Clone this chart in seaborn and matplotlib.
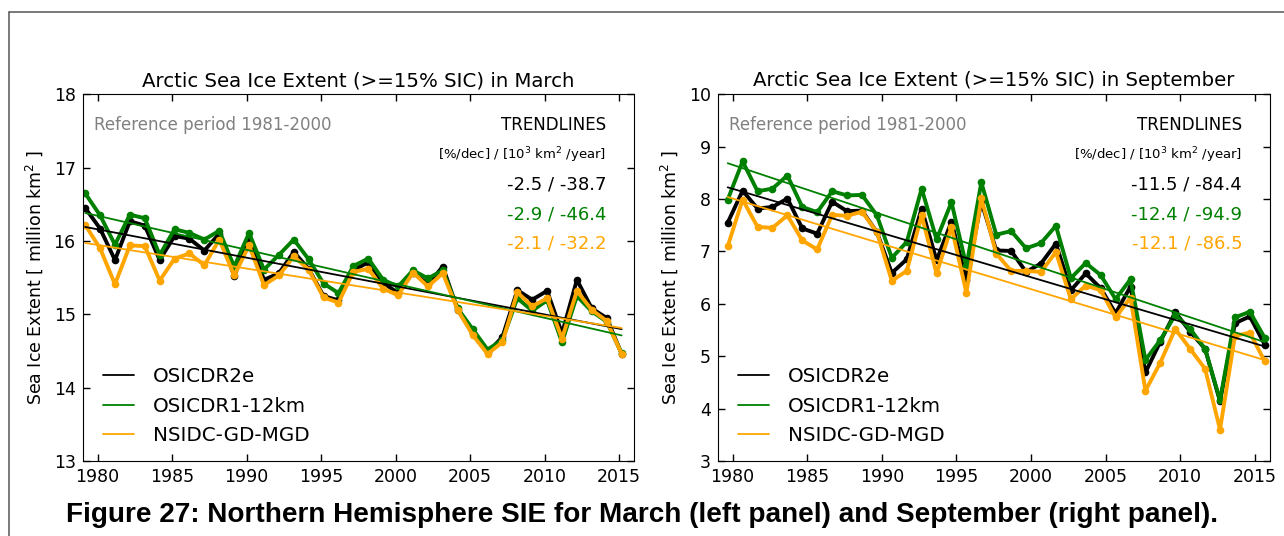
import numpy as np
import pandas as pd
import matplotlib
matplotlib.use("Agg")
import matplotlib.pyplot as plt
from matplotlib.lines import Line2D
import seaborn as sns

years = list(range(1979, 2016))
products = ["OSICDR2e", "OSICDR1-12km", "NSIDC-GD-MGD"]
colors = ["black", "green", "orange"]

# March extent [million km2]
march_osicdr2e = [16.45, 16.17, 15.74, 16.27, 16.21, 15.74, 16.07, 16.03, 15.87, 16.10,
                  15.52, 16.02, 15.47, 15.56, 15.85, 15.62, 15.25, 15.19, 15.60, 15.71,
                  15.43, 15.29, 15.57, 15.41, 15.65, 15.06, 14.75, 14.48, 14.69, 15.33,
                  15.20, 15.32, 14.74, 15.47, 15.08, 14.95, 14.46]
march_osicdr1 = [16.65, 16.35, 15.95, 16.36, 16.31, 15.81, 16.16, 16.11, 16.02, 16.14,
                 15.65, 16.11, 15.61, 15.81, 16.02, 15.75, 15.42, 15.29, 15.66, 15.76,
                 15.47, 15.38, 15.60, 15.49, 15.60, 15.08, 14.80, 14.52, 14.65, 15.22,
                 15.05, 15.19, 14.62, 15.25, 15.04, 14.90, 14.47]
march_nsidc = [16.22, 15.90, 15.41, 15.94, 15.93, 15.46, 15.76, 15.83, 15.67, 16.02,
               15.53, 15.94, 15.40, 15.53, 15.79, 15.61, 15.23, 15.16, 15.58, 15.62,
               15.35, 15.26, 15.57, 15.38, 15.56, 15.06, 14.72, 14.46, 14.62, 15.30,
               15.11, 15.22, 14.67, 15.32, 15.06, 14.91, 14.46]

# September extent [million km2]
sept_osicdr2e = [7.55, 8.16, 7.82, 7.85, 8.01, 7.44, 7.34, 7.95, 7.77, 7.78,
                 7.37, 6.59, 6.85, 7.82, 6.83, 7.57, 6.45, 7.95, 7.02, 7.01,
                 6.61, 6.77, 7.15, 6.26, 6.58, 6.30, 5.82, 6.33, 4.69, 5.28,
                 5.84, 5.47, 5.14, 4.14, 5.63, 5.76, 5.22]
sept_osicdr1 = [7.99, 8.72, 8.15, 8.20, 8.45, 7.85, 7.75, 8.15, 8.07, 8.08,
                7.69, 6.88, 7.18, 8.20, 7.23, 7.94, 6.72, 8.32, 7.32, 7.39,
                7.06, 7.16, 7.49, 6.49, 6.78, 6.55, 6.09, 6.47, 4.93, 5.31,
                5.79, 5.52, 5.14, 4.16, 5.74, 5.85, 5.35]
sept_nsidc = [7.10, 7.99, 7.47, 7.45, 7.69, 7.21, 7.04, 7.70, 7.68, 7.76,
              7.37, 6.44, 6.63, 7.69, 6.58, 7.47, 6.21, 8.02, 6.96, 6.63,
              6.63, 6.61, 6.99, 6.09, 6.35, 6.26, 5.74, 6.12, 4.34, 4.88,
              5.52, 5.14, 4.76, 3.60, 5.39, 5.45, 4.90]

# Trend slopes: [%/dec] and [10^3 km2/year]
march_trend_pct = [-2.5, -2.9, -2.1]
march_trend_abs = [-38.7, -46.4, -32.2]
sept_trend_pct = [-11.5, -12.4, -12.1]
sept_trend_abs = [-84.4, -94.9, -86.5]


def long_frame(series, month):
    t = np.array(years) + (month - 1) / 12.0
    rows = []
    for name, vals in zip(products, series):
        rows.append(pd.DataFrame({"time": t, "extent": vals, "product": name}))
    return pd.concat(rows, ignore_index=True)


def trend_frame(df, slopes):
    rows = []
    for name, s in zip(products, slopes):
        d = df[df["product"] == name]
        k = s / 1000.0
        b = np.mean(d["extent"].values - k * d["time"].values)
        t = d["time"].values[[0, -1]]
        rows.append(pd.DataFrame({"time": t, "extent": k * t + b, "product": name}))
    return pd.concat(rows, ignore_index=True)


sns.set_style("white", {
    "xtick.direction": "in", "ytick.direction": "in",
    "xtick.top": True, "ytick.right": True,
    "xtick.bottom": True, "ytick.left": True,
    "axes.edgecolor": "black", "axes.linewidth": 1.0,
    "text.color": "black", "axes.labelcolor": "black",
    "xtick.color": "black", "ytick.color": "black",
})
plt.rcParams["font.family"] = ["DejaVu Sans"]
plt.rcParams["xtick.major.pad"] = 5
plt.rcParams["ytick.major.pad"] = 5
plt.rcParams["mathtext.default"] = "regular"

fig = plt.figure(figsize=(12.84, 5.36), dpi=100)
ax_m = fig.add_axes([0.0644, 0.1399, 0.4294, 0.6841])
ax_s = fig.add_axes([0.559, 0.1399, 0.4299, 0.6841])

palette = dict(zip(products, colors))

panels = [
    (ax_m, [march_osicdr2e, march_osicdr1, march_nsidc], 3, march_trend_pct, march_trend_abs,
     "Arctic Sea Ice Extent (>=15% SIC) in March", (13, 18)),
    (ax_s, [sept_osicdr2e, sept_osicdr1, sept_nsidc], 9, sept_trend_pct, sept_trend_abs,
     "Arctic Sea Ice Extent (>=15% SIC) in September", (3, 10)),
]

for ax, series, month, pct, absv, title, ylim in panels:
    df = long_frame(series, month)
    sns.lineplot(data=df, x="time", y="extent", hue="product", palette=palette,
                 hue_order=products, marker="o", markersize=5.5, markeredgewidth=0,
                 linewidth=2.8, legend=False, ax=ax)
    tr = trend_frame(df, absv)
    sns.lineplot(data=tr, x="time", y="extent", hue="product", palette=palette,
                 hue_order=products, linewidth=1.3, ax=ax)
    ax.set_xlim(1979, 2016)
    ax.set_ylim(*ylim)
    ax.set_xticks(range(1980, 2016, 5))
    ax.set_yticks(range(ylim[0], ylim[1] + 1))
    ax.tick_params(labelsize=12.5, length=5, width=1, colors="black")
    ax.set_xlabel("")
    ax.set_ylabel("Sea Ice Extent [ million km$^2$ ]", fontsize=12.5, labelpad=6, color="black")
    ax.set_title(title, fontsize=14.2, pad=6, color="black")
    leg = ax.legend(loc="lower left", bbox_to_anchor=(0.005, -0.005), frameon=False,
                    fontsize=14.3, handlelength=1.55, handletextpad=0.95, labelspacing=0.52)
    for t in leg.get_texts():
        t.set_color("black")

    ax.text(0.02, 0.916, "Reference period 1981-2000", transform=ax.transAxes,
            color="gray", fontsize=12, ha="left", va="center")
    ax.text(0.95, 0.916, "TRENDLINES", transform=ax.transAxes,
            color="black", fontsize=12, ha="right", va="center")
    ax.text(0.95, 0.834, "[%/dec] / [10$^3$ km$^2$ /year]", transform=ax.transAxes,
            color="black", fontsize=9.5, ha="right", va="center")
    for i, (p, a, c) in enumerate(zip(pct, absv, colors)):
        ax.text(0.95, 0.753 - 0.0795 * i, f"{p:.1f} / {a:.1f}", transform=ax.transAxes,
                color=c, fontsize=13, ha="right", va="center")

fig.text(0.5, 0.039, "Figure 27: Northern Hemisphere SIE for March (left panel) and September (right panel).",
         ha="center", va="center", fontsize=20.1, fontweight="bold", color="black",
         family=["Liberation Sans", "DejaVu Sans"])

# page frame
ly = 1 - 12.3 / 536
lx = 9.3 / 1284
fig.add_artist(Line2D([lx, 1.0], [ly, ly], transform=fig.transFigure, color="#555555", lw=1.1))
fig.add_artist(Line2D([lx, lx], [0.0, ly], transform=fig.transFigure, color="#555555", lw=1.1))

fig.savefig("out.png", dpi=100)
